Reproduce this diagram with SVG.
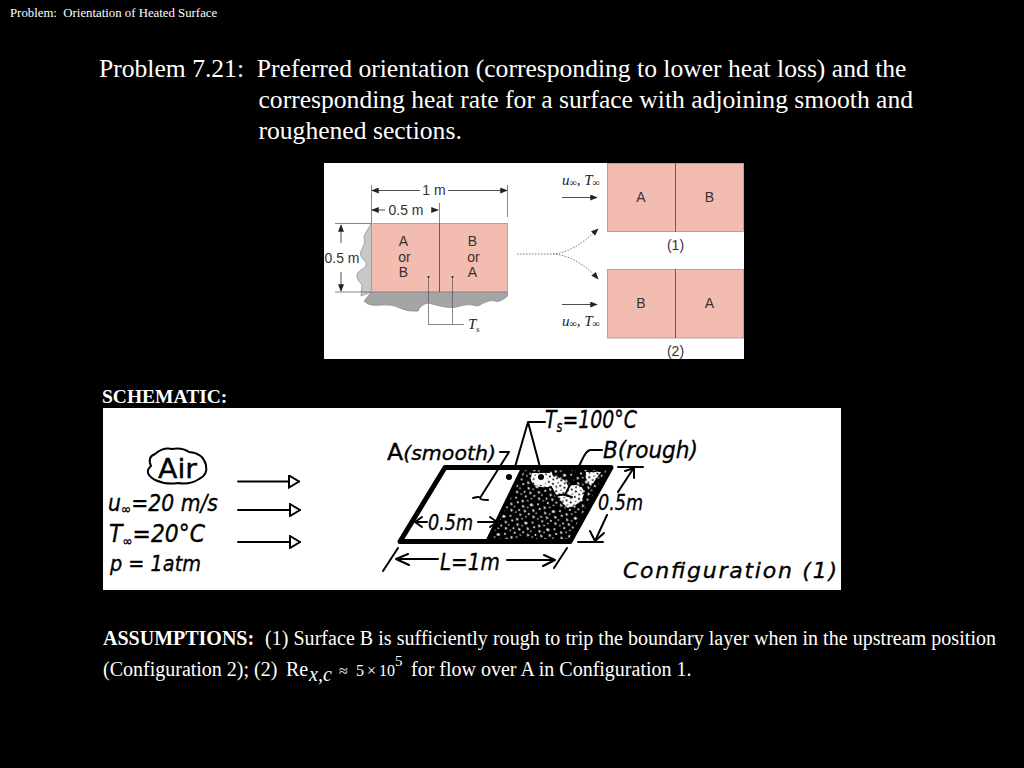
<svg xmlns="http://www.w3.org/2000/svg" width="1024" height="768" viewBox="0 0 1024 768">
<style>
text{font-family:"Liberation Serif",serif;fill:#fff;white-space:pre}
.t{font-size:25.600px}
.b{font-size:20px}
.bb{font-size:20px;font-weight:700}
.s{font-family:"Liberation Sans",sans-serif;fill:#3a3030;font-size:14px;text-anchor:middle}
.i{font-style:italic;fill:#222;font-size:15px}
.sub{font-size:10px}
.pk{fill:#f3bcb0;stroke:#a98f8a;stroke-width:.8}
.dv{stroke:#6f5a58;stroke-width:1}
.ln{stroke:#555;stroke-width:.7;fill:none}
.ar{stroke:#222;stroke-width:.8;fill:none}
.h{font-family:"DejaVu Sans",sans-serif;font-style:italic;fill:#000;stroke:#000;stroke-width:.35}
.ink{stroke:#000;fill:none;stroke-width:2;stroke-linecap:round;stroke-linejoin:round}
.dot{stroke:#777;stroke-width:1;stroke-dasharray:1.500 1.500;fill:none}
</style>
<defs>
<marker id="a" viewBox="0 0 10 8" refX="9" refY="4" markerWidth="8" markerHeight="6" orient="auto-start-reverse" markerUnits="userSpaceOnUse"><path d="M0 0L10 4L0 8Z" fill="#222"/></marker>
<marker id="o" viewBox="0 0 12 14" refX="11" refY="7" markerWidth="12" markerHeight="14" orient="auto" markerUnits="userSpaceOnUse"><path d="M1 1L11 7L1 13Z" fill="#fff" stroke="#000" stroke-width="2"/></marker>
<pattern id="n" width="23" height="19" patternUnits="userSpaceOnUse" patternTransform="rotate(17)">
<rect width="23" height="19" fill="#000"/>
<g fill="#fff"><path d="M1 2L4 3L2 5Z"/><circle cx="7" cy="1.500" r=".8"/><path d="M11 3L14 4L12 6L10 5Z"/><circle cx="18" cy="2" r=".9"/><circle cx="21" cy="6" r="1"/><path d="M3 7L6 8L4 10Z"/><circle cx="9" cy="8" r=".8"/><path d="M14 8L17 9L15 11Z"/><circle cx="19" cy="11" r=".8"/><circle cx="1.500" cy="13" r=".9"/><path d="M6 11L9 12L7 14Z"/><circle cx="12" cy="14" r=".9"/><path d="M16 14L19 15L17 17Z"/><circle cx="22" cy="16" r=".8"/><circle cx="4" cy="17" r="1"/><circle cx="10" cy="17.500" r=".8"/></g>
</pattern>
<pattern id="m" width="9" height="8" patternUnits="userSpaceOnUse" patternTransform="rotate(-23)">
<rect width="9" height="8" fill="#fff"/>
<g fill="#000"><circle cx="2" cy="2" r="1"/><circle cx="7" cy="1.500" r=".9"/><circle cx="5" cy="5.500" r="1.100"/><circle cx="1" cy="6.500" r=".7"/></g>
</pattern>
</defs>
<rect width="1024" height="768" fill="#000"/>

<g id="header">
<text x="10" y="17" font-size="12.800">Problem:  Orientation of Heated Surface</text>
<text class="t" x="99" y="76.500">Problem 7.21:  Preferred orientation (corresponding to lower heat loss) and the</text>
<text class="t" x="258.500" y="107.500">corresponding heat rate for a surface with adjoining smooth and</text>
<text class="t" x="258.500" y="138.500">roughened sections.</text>
</g>

<g id="figure">
<rect x="324" y="163" width="420" height="196" fill="#fff"/>
<path d="M371.500 223L364 236Q366 243 362 249T364 260T361 270T362 285L361 296L371.500 292Z" fill="#c8c8c8" stroke="#777" stroke-width=".6"/>
<path d="M371.500 292L507.500 292L507.500 296Q500 303 495 301T478 306Q468 303 460 306T440 306T428 303Q420 305 418 311Q408 312 400 308T382 305T368 304L364 301Z" fill="#a5a5a5" stroke="#777" stroke-width=".6"/>
<g id="plate">
<rect class="pk" x="371.500" y="223.500" width="136" height="68"/>
<path class="dv" d="M439.500 223V292"/>
<text class="s" x="403.500" y="246">A</text><text class="s" x="404.500" y="262">or</text><text class="s" x="403.500" y="277">B</text>
<text class="s" x="472.500" y="246">B</text><text class="s" x="473.500" y="262">or</text><text class="s" x="472.500" y="277">A</text>
<circle cx="428.500" cy="277" r="1.100" fill="#222"/><circle cx="452.500" cy="277" r="1.100" fill="#222"/>
<path class="ln" d="M428.500 277V324.500H452.500V277M452.500 324.500H464"/>
<text class="i" x="468" y="329">T</text><text class="i sub" x="476" y="332" style="font-size:9px">s</text>
</g>
<g id="dimensions">
<path class="ln" d="M371.500 185V223M507.500 185V217M439.500 203V223M335 223.500H371M335 292H371"/>
<path class="ar" marker-start="url(#a)" d="M372 190.500H420"/>
<path class="ar" marker-end="url(#a)" d="M448 190.500H507"/>
<path class="ar" marker-start="url(#a)" d="M372 210H385"/><path class="ar" marker-end="url(#a)" d="M432 210H438"/>
<path class="ar" marker-start="url(#a)" d="M341 225V243"/><path class="ar" marker-end="url(#a)" d="M341 272V291"/>
<text class="s" x="434" y="194.500">1 m</text>
<text class="s" x="406" y="214.500">0.5 m</text>
<text class="s" x="342" y="263">0.5 m</text>
</g>
<g id="splitter">
<path class="dot" d="M517 254H553C570 253 585 241 598 229" marker-end="url(#a)"/>
<path class="dot" d="M553 254C570 255 587 266 598 279" marker-end="url(#a)"/>
</g>
<g id="config1-fig">
<rect class="pk" x="607.500" y="163.500" width="136" height="68"/>
<path class="dv" d="M675.500 163V232"/>
<text class="s" x="641" y="202">A</text><text class="s" x="709.500" y="202">B</text>
<text class="s" x="675.500" y="249.500">(1)</text>
<path class="ar" marker-end="url(#a)" d="M562 197.500H597"/>
<text class="i" x="562" y="185">u<tspan class="sub" dy="1">∞</tspan><tspan dy="-1">, T</tspan><tspan class="sub" dy="1">∞</tspan></text>
</g>
<g id="config2-fig">
<rect class="pk" x="607.500" y="269.500" width="136" height="68.500"/>
<path class="dv" d="M675.500 269V338"/>
<text class="s" x="641" y="308">B</text><text class="s" x="709.500" y="308">A</text>
<text class="s" x="675.500" y="356">(2)</text>
<path class="ar" marker-end="url(#a)" d="M562 304.500H597"/>
<text class="i" x="562" y="326">u<tspan class="sub" dy="1">∞</tspan><tspan dy="-1">, T</tspan><tspan class="sub" dy="1">∞</tspan></text>
</g>
</g>

<text id="schematic-label" class="bb" x="102" y="403" style="font-size:19.500px">SCHEMATIC:</text>

<g id="schematic">
<rect x="103" y="408" width="738" height="182" fill="#fff"/>
<g id="air">
<path class="ink" d="M151 466Q147 457 155 454Q163 447 172 449Q182 447 189 452Q203 453 206 465Q208 475 199 479Q190 485 178 483Q166 485 155 480Q143 473 151 466Z"/>
<text class="h" x="158" y="478" font-size="26" textLength="39" lengthAdjust="spacingAndGlyphs" style="font-style:normal">Air</text>
<text class="h" x="108" y="511" font-size="23" textLength="110" lengthAdjust="spacingAndGlyphs">u<tspan font-size="14" dy="3">∞</tspan><tspan dy="-3">=20 m/s</tspan></text>
<text class="h" x="109" y="542" font-size="25" textLength="96" lengthAdjust="spacingAndGlyphs">T<tspan font-size="14" dy="4">∞</tspan><tspan dy="-4">=20°C</tspan></text>
<text class="h" x="110" y="571" font-size="22" textLength="91" lengthAdjust="spacingAndGlyphs">p = 1atm</text>
</g>
<g id="flow">
<path class="ink" marker-end="url(#o)" d="M238 481.500H299"/>
<path class="ink" marker-end="url(#o)" d="M238 510H300"/>
<path class="ink" marker-end="url(#o)" d="M238 542H300"/>
</g>
<g id="surface">
<path d="M523 468H611L570 542H487Z" fill="url(#n)"/>
<path d="M532 473H552Q555 481 552 486Q542 489 534 485Q529 480 532 473Z" fill="url(#m)"/>
<circle cx="541" cy="479" r="6" fill="#fff"/>
<path d="M552 476Q566 478 568 486Q584 482 584 494Q582 504 568 508Q558 500 552 487Z" fill="url(#m)"/>
<path d="M586 472H601L591 486Q584 480 586 472Z" fill="url(#m)"/>
<path d="M445 467.500H611L570 541.500H400Z" fill="none" stroke="#000" stroke-width="5" stroke-linejoin="round"/>
<path d="M523 468L487 542" stroke="#000" stroke-width="4"/>
<circle cx="509" cy="477" r="3" fill="#000"/><circle cx="541" cy="477" r="3" fill="#000"/>
</g>
<g id="labels">
<path class="ink" d="M515 467L528 422L540 467M528 422H545" stroke-width="1.800"/>
<text class="h" x="545" y="428" font-size="25" textLength="92" lengthAdjust="spacingAndGlyphs">T<tspan font-size="15" dy="4">s</tspan><tspan dy="-4">=100°C</tspan></text>
<text class="h" x="387" y="460" font-size="23" textLength="109" lengthAdjust="spacingAndGlyphs" style="font-style:normal">A<tspan font-style="italic" font-size="20">(smooth)</tspan></text>
<path class="ink" d="M500 452H509L480 498M473 498Q480 496 480 498T488 500" stroke-width="1.800"/>
<path class="ink" d="M602 450H590Q586 451 582 460L565 495M556 496Q562 494 565 495T572 497" stroke-width="1.800"/>
<text class="h" x="603" y="458" font-size="23" textLength="95" lengthAdjust="spacingAndGlyphs">B(rough)</text>
<path class="ink" d="M618 467H643M633 469L618 492M607 515L595 541M578 542H603" stroke-width="1.800"/>
<path class="ink" d="M625 471L634 468L634 478M590 531L595 541L604 533" stroke-width="1.800"/>
<text class="h" x="598" y="510" font-size="22" textLength="45" lengthAdjust="spacingAndGlyphs">0.5m</text>
<text class="h" x="428" y="530" font-size="21" textLength="45" lengthAdjust="spacingAndGlyphs">0.5m</text>
<path class="ink" d="M427 522H416M422 517L415 522L422 527M478 522H496M490 517L497 522L490 527" stroke-width="1.700"/>
<path class="ink" d="M383 571L398 548M397 559H438M408 554L396 559L409 565M507 560H555M544 555L555 560L543 566M554 568L567 548" stroke-width="1.800"/>
<text class="h" x="440" y="570" font-size="23" textLength="60" lengthAdjust="spacingAndGlyphs">L=1m</text>
<text class="h" x="623" y="578" font-size="22" textLength="214" lengthAdjust="spacing">Configuration (1)</text>
</g>
</g>

<g id="assumptions">
<text class="bb" x="103" y="644.500">ASSUMPTIONS:</text>
<text class="b" x="265" y="644.500" textLength="731">(1) Surface B is sufficiently rough to trip the boundary layer when in the upstream position</text>
<text class="b" x="103" y="676">(Configuration 2); (2)</text>
<text class="b" x="286" y="676">Re</text>
<text class="b" x="309" y="681" font-style="italic">x,c</text>
<text y="676" font-size="16"><tspan x="339">≈</tspan><tspan x="356">5</tspan><tspan x="367">×</tspan><tspan x="379">10</tspan></text>
<text x="395" y="666" font-size="15">5</text>
<text class="b" x="411" y="676">for flow over A in Configuration 1.</text>
</g>
</svg>
